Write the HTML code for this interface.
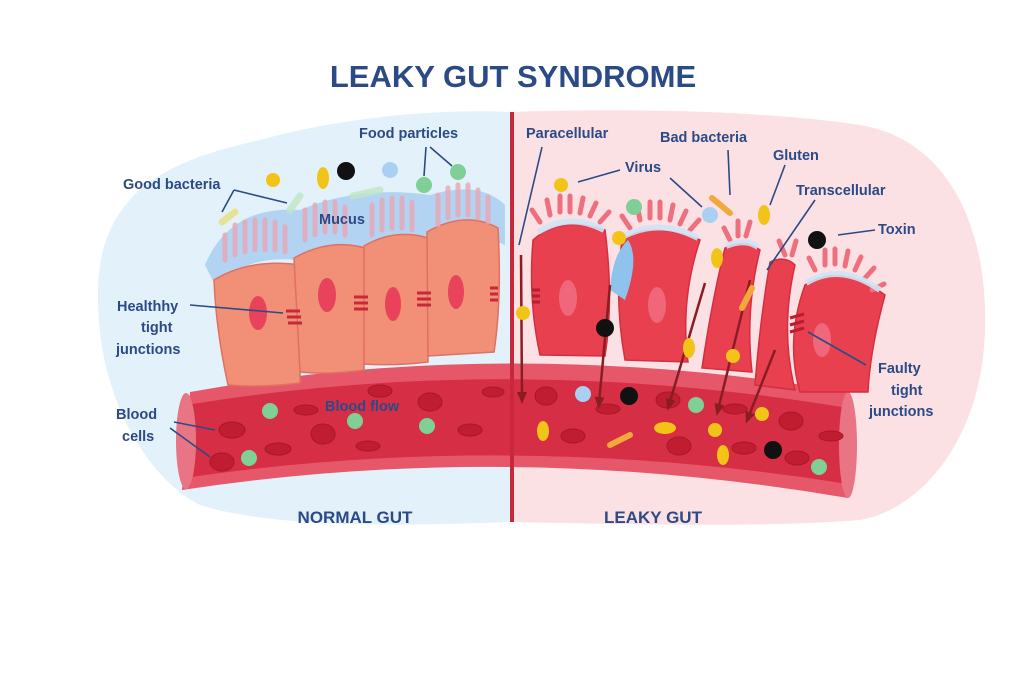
<!DOCTYPE html>
<html><head><meta charset="utf-8"><style>
html,body{margin:0;padding:0;background:#fff;}
svg{display:block;font-family:"Liberation Sans",sans-serif;}
.l{fill:#2b4a86;font-size:14.5px;font-weight:bold;}
.ln{stroke:#2b4a86;stroke-width:1.6;fill:none;}
</style></head><body>
<svg width="1030" height="686" viewBox="0 0 1030 686" xmlns="http://www.w3.org/2000/svg">
<defs>
<marker id="ar" markerUnits="userSpaceOnUse" markerWidth="12" markerHeight="12" refX="6" refY="6" orient="auto"><path d="M0,1 L12,6 L0,11 z" fill="#8a1d22"/></marker>
</defs>
<rect width="1030" height="686" fill="#fff"/>
<text x="513" y="87" text-anchor="middle" font-size="31" font-weight="bold" fill="#2b4a86">LEAKY GUT SYNDROME</text>
<path d="M512,112 C430,108 330,120 260,140 C170,160 100,190 98,290 C96,400 150,480 200,505 C280,530 420,525 512,522 Z" fill="#e2f1fa"/>
<path d="M512,112 C620,108 760,110 860,125 C950,140 988,230 985,330 C982,440 920,510 860,520 C760,528 620,524 512,522 Z" fill="#fbe1e4"/>
<path d="M190,392 Q510,335 848,392 L848,498 Q510,440 182,490 Z" fill="#e6576a"/>
<path d="M186,405 Q510,352 848,408 L848,484 Q510,430 184,478 Z" fill="#d52e45"/>
<ellipse cx="186" cy="441" rx="10" ry="48" fill="#e97584"/>
<ellipse cx="848" cy="445" rx="9" ry="53" fill="#e97584"/>
<g fill="#c01e30" stroke="#a8172a" stroke-width="1">
<ellipse cx="232" cy="430" rx="13" ry="8"/><ellipse cx="222" cy="462" rx="12" ry="9"/><ellipse cx="278" cy="449" rx="13" ry="6"/>
<ellipse cx="306" cy="410" rx="12" ry="5"/><ellipse cx="323" cy="434" rx="12" ry="10"/><ellipse cx="380" cy="391" rx="12" ry="6"/>
<ellipse cx="368" cy="446" rx="12" ry="5"/><ellipse cx="430" cy="402" rx="12" ry="9"/><ellipse cx="470" cy="430" rx="12" ry="6"/>
<ellipse cx="493" cy="392" rx="11" ry="5"/><ellipse cx="546" cy="396" rx="11" ry="9"/><ellipse cx="573" cy="436" rx="12" ry="7"/>
<ellipse cx="608" cy="409" rx="12" ry="5"/><ellipse cx="668" cy="400" rx="12" ry="8"/><ellipse cx="679" cy="446" rx="12" ry="9"/>
<ellipse cx="735" cy="409" rx="12" ry="5"/><ellipse cx="744" cy="448" rx="12" ry="6"/><ellipse cx="791" cy="421" rx="12" ry="9"/>
<ellipse cx="797" cy="458" rx="12" ry="7"/><ellipse cx="831" cy="436" rx="12" ry="5"/>
</g>
<path d="M205,265 Q230,205 300,210 Q360,185 430,195 Q480,180 505,205 L505,245 Q460,225 430,240 Q390,230 360,248 Q320,240 295,260 Q250,255 215,285 Z" fill="#a9cff0" opacity="0.85"/>
<g fill="#f19076" stroke="#e07060" stroke-width="1.5">
<path d="M214,280 Q250,258 300,265 L300,383 Q260,388 228,385 Q216,330 214,280 Z"/>
<path d="M294,258 Q330,238 365,248 L364,370 Q330,375 300,372 Z"/>
<path d="M364,246 Q395,228 428,238 L428,362 Q395,366 364,364 Z"/>
<path d="M427,232 Q465,210 498,228 Q502,300 494,352 L428,356 Z"/>
</g>
<g fill="#e8435a">
<ellipse cx="258" cy="313" rx="9" ry="17"/><ellipse cx="327" cy="295" rx="9" ry="17"/><ellipse cx="393" cy="304" rx="8" ry="17"/><ellipse cx="456" cy="292" rx="8" ry="17"/>
</g>
<g stroke="#c8283a" stroke-width="3">
<path d="M286,311 h14 M287,317 h14 M288,323 h14 M354,297 h14 M354,303 h14 M354,309 h14 M417,293 h14 M417,299 h14 M417,305 h14 M490,288 h8 M490,294 h8 M490,300 h8"/>
</g>
<g stroke="#e9a6b4" stroke-width="5" stroke-linecap="round" opacity="0.8">
<path d="M225,260 v-25 M235,255 v-30 M245,252 v-30 M255,250 v-30 M265,250 v-30 M275,250 v-28 M285,252 v-25 M305,240 v-30 M315,235 v-30 M325,232 v-30 M335,232 v-30 M345,235 v-28 M372,235 v-30 M382,230 v-30 M392,228 v-30 M402,228 v-30 M412,230 v-28 M438,225 v-30 M448,218 v-30 M458,215 v-30 M468,215 v-30 M478,218 v-28 M488,222 v-25"/>
</g>
<g fill="#e8404f" stroke="#d52e40" stroke-width="1.5">
<path d="M533,240 Q560,215 605,230 Q614,300 605,356 L540,355 Q528,300 533,240 Z"/>
<path d="M622,240 Q650,220 700,240 Q680,300 688,362 L625,360 Q614,300 622,240 Z"/>
<path d="M725,248 Q745,238 760,250 Q745,310 752,372 L702,368 Q712,300 725,248 Z"/>
<path d="M770,262 Q785,255 795,265 Q780,330 795,390 L755,385 Q760,320 770,262 Z"/>
<path d="M805,285 Q840,262 885,295 Q870,350 868,392 L800,392 Q785,340 805,285 Z"/>
</g>
<g fill="#f0667a"><ellipse cx="568" cy="298" rx="9" ry="18"/><ellipse cx="657" cy="305" rx="9" ry="18"/><ellipse cx="822" cy="340" rx="9" ry="17"/></g>
<path d="M610,290 Q612,255 628,240 Q640,258 625,300 Z" fill="#8fc3ee"/>
<g stroke="#ee6f7e" stroke-width="5" stroke-linecap="round">
<path d="M540,222 l-8,-12 M550,215 l-3,-15 M560,212 v-16 M570,212 v-16 M580,213 l3,-15 M590,216 l6,-13 M600,222 l9,-10 M630,228 l-8,-12 M640,220 l-3,-15 M650,218 v-16 M660,218 v-16 M670,220 l3,-15 M680,224 l6,-13 M690,230 l9,-10 M730,240 l-6,-12 M738,236 v-15 M746,236 l4,-14 M785,255 l-6,-14 M792,255 l4,-14 M815,270 l-6,-12 M825,265 v-15 M835,264 v-15 M845,266 l3,-15 M855,270 l6,-13 M865,278 l9,-10 M872,290 l12,-6"/>
</g>
<g stroke="#cfe4f5" stroke-width="6" fill="none" opacity="0.9"><path d="M538,232 Q570,212 604,230 M624,236 Q660,218 698,238 M726,246 Q745,238 758,247 M806,283 Q840,262 880,290"/></g>
<g stroke="#b81d30" stroke-width="3"><path d="M532,290 h8 M532,296 h8 M532,302 h8 M790,318 l14,-4 M790,325 l14,-4 M790,332 l14,-4"/></g>
<g stroke="#8a1d22" stroke-width="2.5" marker-end="url(#ar)">
<path d="M521,255 L522,398"/><path d="M610,285 L599,403"/><path d="M705,283 L669,405"/><path d="M750,280 L718,410"/><path d="M775,350 L748,418"/>
</g>
<line x1="512" y1="112" x2="512" y2="522" stroke="#c8283a" stroke-width="4"/>
<g fill="#f2c418">
<circle cx="273" cy="180" r="7"/><circle cx="561" cy="185" r="7"/><circle cx="619" cy="238" r="7"/><circle cx="523" cy="313" r="7"/><circle cx="733" cy="356" r="7"/><circle cx="715" cy="430" r="7"/><circle cx="762" cy="414" r="7"/>
<ellipse cx="323" cy="178" rx="6" ry="11"/><ellipse cx="764" cy="215" rx="6" ry="10"/><ellipse cx="717" cy="258" rx="6" ry="10"/><ellipse cx="689" cy="348" rx="6" ry="10"/><ellipse cx="543" cy="431" rx="6" ry="10"/><ellipse cx="665" cy="428" rx="11" ry="6"/><ellipse cx="723" cy="455" rx="6" ry="10"/>
</g>
<g stroke="#f2a93b" stroke-width="6" stroke-linecap="round"><path d="M712,198 L730,213 M752,288 L742,308 M610,445 L630,435"/></g>
<g fill="#111"><circle cx="346" cy="171" r="9"/><circle cx="817" cy="240" r="9"/><circle cx="605" cy="328" r="9"/><circle cx="629" cy="396" r="9"/><circle cx="773" cy="450" r="9"/></g>
<g fill="#a9d0f2"><circle cx="390" cy="170" r="8"/><circle cx="710" cy="215" r="8"/><circle cx="583" cy="394" r="8"/></g>
<g fill="#7fcf97"><circle cx="424" cy="185" r="8"/><circle cx="458" cy="172" r="8"/><circle cx="634" cy="207" r="8"/><circle cx="270" cy="411" r="8"/><circle cx="355" cy="421" r="8"/><circle cx="427" cy="426" r="8"/><circle cx="249" cy="458" r="8"/><circle cx="696" cy="405" r="8"/><circle cx="819" cy="467" r="8"/></g>
<g stroke-linecap="round" stroke-width="7" opacity="0.8"><path d="M222,222 L235,212" stroke="#e8e27a"/><path d="M290,210 L300,196" stroke="#bfe7c5"/><path d="M353,196 L380,190" stroke="#bfe7c5"/></g>
<g class="ln">
<path d="M234,190 L222,212 M234,190 L287,203"/><path d="M426,147 L424,176 M430,147 L452,166"/><path d="M190,305 L283,313"/>
<path d="M174,422 L215,430 M170,428 L210,457"/><path d="M542,147 L519,245"/><path d="M620,170 L578,182"/>
<path d="M670,178 L702,207"/><path d="M728,150 L730,195"/><path d="M785,165 L770,205"/><path d="M815,200 L767,270"/>
<path d="M838,235 L875,230"/><path d="M866,365 L808,332"/>
</g>
<text class="l" x="123" y="189">Good bacteria</text>
<text class="l" x="359" y="138">Food particles</text>
<text class="l" x="319" y="224">Mucus</text>
<text class="l" x="117" y="311">Healthhy</text><text class="l" x="141" y="332">tight</text><text class="l" x="116" y="354">junctions</text>
<text class="l" x="116" y="419">Blood</text><text class="l" x="122" y="441">cells</text>
<text class="l" x="325" y="411">Blood flow</text>
<text class="l" x="526" y="138">Paracellular</text>
<text class="l" x="625" y="172">Virus</text>
<text class="l" x="660" y="142">Bad bacteria</text>
<text class="l" x="773" y="160">Gluten</text>
<text class="l" x="796" y="195">Transcellular</text>
<text class="l" x="878" y="234">Toxin</text>
<text class="l" x="878" y="373">Faulty</text><text class="l" x="891" y="395">tight</text><text class="l" x="869" y="416">junctions</text>
<text x="355" y="523" text-anchor="middle" font-size="17" font-weight="bold" fill="#2b4a86">NORMAL  GUT</text>
<text x="653" y="523" text-anchor="middle" font-size="17" font-weight="bold" fill="#2b4a86">LEAKY  GUT</text>
</svg>
</body></html>
